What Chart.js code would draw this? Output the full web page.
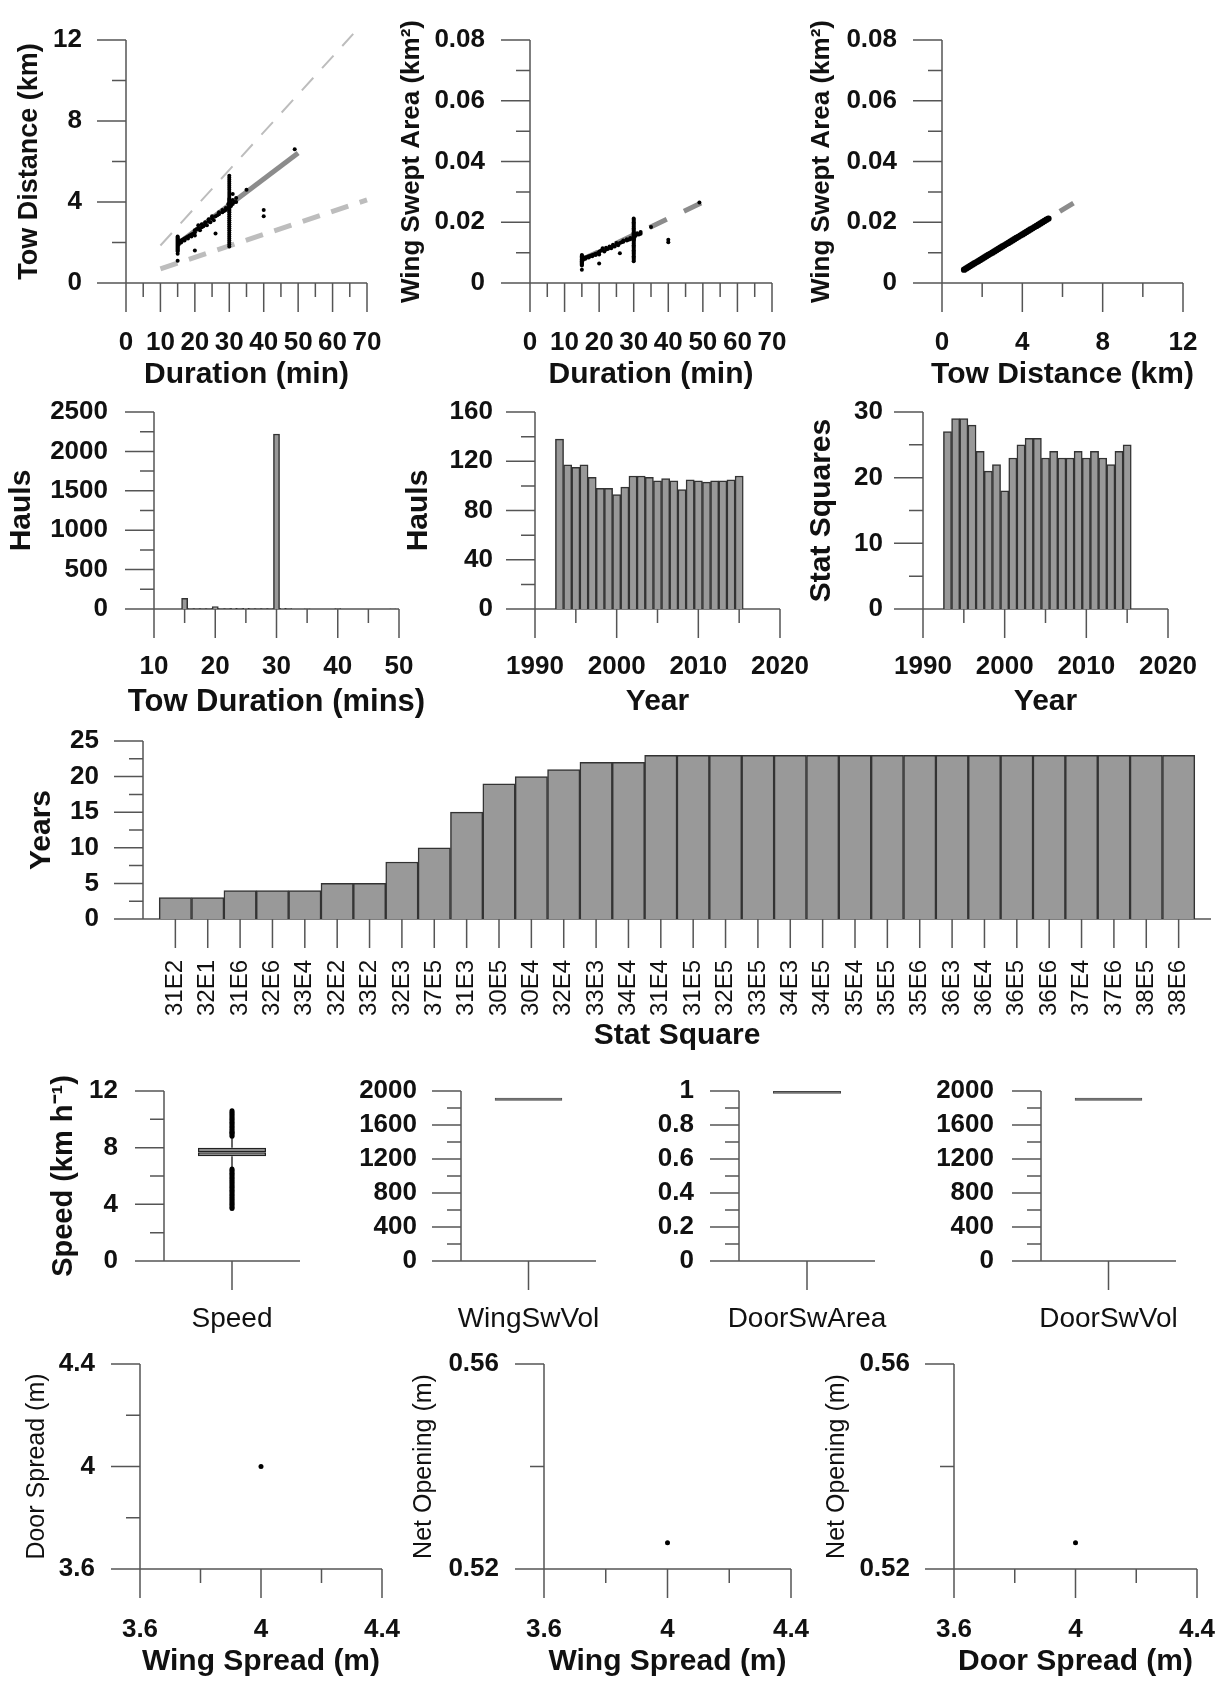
<!DOCTYPE html>
<html>
<head>
<meta charset="utf-8">
<script src="https://cdn.jsdelivr.net/npm/chart.js@4.4.1/dist/chart.umd.min.js"></script>
<style>
body { margin: 0; background: #fff; overflow: hidden; }
#fig { position: relative; width: 1224px; height: 1682px; background: #fff; }
#fig canvas { position: absolute; }
</style>
</head>
<body>
<div id="fig"></div>
<script>
// ---- row 1: tow distance / swept area scatter ----
const durTicks = [0, 10, 20, 30, 40, 50, 60, 70];
const durLabels = ['0', '10', '20', '30', '40', '50', '60', '70'];
const durMinor = [5, 15, 25, 35, 45, 55, 65];
const distTicks = [0, 4, 8, 12];
const distLabels = ['0', '4', '8', '12'];
const distMinor = [2, 6, 10];
const areaTicks = [0, 0.02, 0.04, 0.06, 0.08];
const areaLabels = ['0', '0.02', '0.04', '0.06', '0.08'];
const areaMinor = [0.01, 0.03, 0.05, 0.07];

// duration (min), tow distance (km)
const durDistPts = [
  [15, 1.1], [15, 1.45], [15, 1.55], [15, 1.6], [15, 1.65], [15, 1.7], [15, 1.75], [15, 1.8], [15, 1.85], [15, 1.9],
  [15, 1.95], [15, 2.0], [15, 2.05], [15, 2.1], [15, 2.15], [15, 2.2], [15, 2.25], [15, 2.3], [15.3, 1.9], [15.5, 2.0],
  [15.5, 2.1], [16, 2.0], [16, 2.1], [16.5, 2.15], [17, 2.1], [17, 2.2], [17.5, 2.25], [18, 2.2], [18, 2.3], [18.5, 2.35],
  [19, 2.4], [19, 2.3], [19.5, 2.45], [20, 2.5], [20, 2.6], [20, 2.35], [20, 1.6], [20.5, 2.65], [21, 2.7], [21, 2.85],
  [21.5, 2.6], [22, 2.75], [22, 2.9], [22.5, 2.8], [23, 2.9], [23, 3.0], [23.5, 2.85], [24, 3.05], [24, 3.15], [24.5, 3.0],
  [25, 3.2], [25, 3.3], [25.5, 3.1], [26, 3.3], [26, 2.45], [26.5, 3.35], [27, 3.4], [27, 3.5], [28, 3.5], [28, 3.6],
  [28.5, 3.55], [29, 3.6], [29, 3.7],
  [30, 1.8], [30, 1.9], [30, 2.0], [30, 2.1], [30, 2.2], [30, 2.3], [30, 2.4], [30, 2.5], [30, 2.6], [30, 2.7],
  [30, 2.8], [30, 2.9], [30, 3.0], [30, 3.1], [30, 3.2], [30, 3.3], [30, 3.4], [30, 3.5], [30, 3.55], [30, 3.6],
  [30, 3.65], [30, 3.7], [30, 3.75], [30, 3.8], [30, 3.85], [30, 3.9], [30, 3.95], [30, 4.0], [30, 4.05], [30, 4.1],
  [30, 4.15], [30, 4.2], [30, 4.3], [30, 4.4], [30, 4.5], [30, 4.6], [30, 4.7], [30, 4.8], [30, 4.9], [30, 5.0],
  [30, 5.1], [30, 5.2], [30, 5.3], [29.7, 3.7], [29.7, 3.9], [30.3, 3.8], [30.3, 4.0], [30.5, 3.8], [31, 3.9], [31, 4.1],
  [31.5, 4.0], [32, 4.0], [32, 4.2], [31, 4.4],
  [35, 4.6], [40, 3.6], [40, 3.3], [49, 6.6]
];
const p1FitLine = [[15, 1.93], [50, 6.42]];
const p1UpperLine = [[10, 1.85], [66, 12.3]];
const p1LowerLine = [[10, 0.7], [70, 4.1]];

// duration (min), wing swept area (km2)
const durAreaPts = [
  [15, 0.0044], [15, 0.0058], [15, 0.0062], [15, 0.0065], [15, 0.0068], [15, 0.007], [15, 0.0072], [15, 0.0074], [15, 0.0076], [15, 0.0078],
  [15, 0.008], [15, 0.0082], [15, 0.0084], [15, 0.0086], [15, 0.0088], [15, 0.009], [15, 0.0092], [15.3, 0.0076], [15.5, 0.008], [15.5, 0.0084],
  [16, 0.008], [16, 0.0084], [16.5, 0.0086], [17, 0.0084], [17, 0.0088], [17.5, 0.009], [18, 0.0088], [18, 0.0092], [18.5, 0.0094], [19, 0.0096],
  [19, 0.0092], [19.5, 0.0098], [20, 0.01], [20, 0.0104], [20, 0.0094], [20, 0.0064], [20.5, 0.0106], [21, 0.0108], [21, 0.0114], [21.5, 0.0104],
  [22, 0.011], [22, 0.0116], [22.5, 0.0112], [23, 0.0116], [23, 0.012], [23.5, 0.0114], [24, 0.0122], [24, 0.0126], [24.5, 0.012], [25, 0.0128],
  [25, 0.0132], [25.5, 0.0124], [26, 0.0132], [26, 0.0098], [26.5, 0.0134], [27, 0.0136], [27, 0.014], [28, 0.014], [28, 0.0144], [28.5, 0.0142],
  [29, 0.0144], [29, 0.0148],
  [30, 0.0072], [30, 0.0076], [30, 0.008], [30, 0.0084], [30, 0.0088], [30, 0.0092], [30, 0.0096], [30, 0.01], [30, 0.0104], [30, 0.0108],
  [30, 0.0112], [30, 0.0116], [30, 0.012], [30, 0.0124], [30, 0.0128], [30, 0.0132], [30, 0.0136], [30, 0.014], [30, 0.0142], [30, 0.0144],
  [30, 0.0146], [30, 0.0148], [30, 0.015], [30, 0.0152], [30, 0.0154], [30, 0.0156], [30, 0.0158], [30, 0.016], [30, 0.0162], [30, 0.0164],
  [30, 0.0166], [30, 0.0168], [30, 0.0172], [30, 0.0176], [30, 0.018], [30, 0.0184], [30, 0.0188], [30, 0.0192], [30, 0.0196], [30, 0.02],
  [30, 0.0204], [30, 0.0208], [30, 0.0212], [30.3, 0.0152], [30.5, 0.0156], [31, 0.016], [31, 0.0164], [31.5, 0.016], [32, 0.0162], [32, 0.0168],
  [35, 0.0184], [40, 0.0142], [40, 0.0134], [49, 0.0265]
];
const p2FitLine = [[15, 0.0077], [50, 0.0266]];

// tow distance (km), wing swept area (km2)
const distAreaPts = [
  [1.1, 0.0044], [1.2, 0.0048], [1.3, 0.0052], [1.4, 0.0056], [1.5, 0.006], [1.6, 0.0064], [1.7, 0.0068], [1.8, 0.0072], [1.9, 0.0076], [2.0, 0.008],
  [2.1, 0.0084], [2.2, 0.0088], [2.3, 0.0092], [2.4, 0.0096], [2.5, 0.01], [2.6, 0.0104], [2.7, 0.0108], [2.8, 0.0112], [2.9, 0.0116], [3.0, 0.012],
  [3.1, 0.0124], [3.2, 0.0128], [3.3, 0.0132], [3.4, 0.0136], [3.5, 0.014], [3.6, 0.0144], [3.7, 0.0148], [3.8, 0.0152], [3.9, 0.0156], [4.0, 0.016],
  [4.1, 0.0164], [4.2, 0.0168], [4.3, 0.0172], [4.4, 0.0176], [4.5, 0.018], [4.6, 0.0184], [4.7, 0.0188], [4.8, 0.0192], [4.9, 0.0196], [5.0, 0.02],
  [5.1, 0.0204], [5.2, 0.0208], [5.3, 0.0212]
];
const p3FitLine = [[1.1, 0.0044], [6.6, 0.0265]];

// ---- row 2: histograms ----
const towMins = [15, 16, 17, 18, 19, 20, 21, 22, 23, 24, 25, 26, 27, 28, 29, 30, 31, 32, 33, 34, 35, 36, 37, 38, 39, 40, 41, 42, 43, 44, 45, 46, 47, 48, 49];
const towMinHauls = [135, 6, 5, 6, 4, 30, 5, 6, 8, 6, 10, 6, 5, 4, 6, 2221, 8, 5, 0, 0, 3, 0, 0, 0, 0, 4, 0, 0, 0, 0, 0, 0, 0, 0, 3];
const towTicks = [10, 20, 30, 40, 50];
const towLabels = ['10', '20', '30', '40', '50'];
const towMinor = [15, 25, 35, 45];
const haulTicks = [0, 500, 1000, 1500, 2000, 2500];
const haulLabels = ['0', '500', '1000', '1500', '2000', '2500'];
const haulMinor = [250, 750, 1250, 1750, 2250];

const years = [1993, 1994, 1995, 1996, 1997, 1998, 1999, 2000, 2001, 2002, 2003, 2004, 2005, 2006, 2007, 2008, 2009, 2010, 2011, 2012, 2013, 2014, 2015];
const haulsPerYear = [138, 117, 115, 117, 107, 98, 98, 93, 99, 108, 108, 107, 104, 106, 104, 97, 105, 104, 103, 104, 104, 105, 108];
const squaresPerYear = [27, 29, 29, 28, 24, 21, 22, 18, 23, 25, 26, 26, 23, 24, 23, 23, 24, 23, 24, 23, 22, 24, 25];
const yearTicks = [1990, 2000, 2010, 2020];
const yearLabels = ['1990', '2000', '2010', '2020'];
const yearMinor = [1995, 2005, 2015];
const hyTicks = [0, 40, 80, 120, 160];
const hyLabels = ['0', '40', '80', '120', '160'];
const hyMinor = [20, 60, 100, 140];
const sqTicks = [0, 10, 20, 30];
const sqLabels = ['0', '10', '20', '30'];
const sqMinor = [5, 15, 25];

// ---- row 3: years sampled per stat square ----
const squareNames = ['31E2', '32E1', '31E6', '32E6', '33E4', '32E2', '33E2', '32E3', '37E5', '31E3', '30E5', '30E4', '32E4', '33E3', '34E4', '31E4',
  '31E5', '32E5', '33E5', '34E3', '34E5', '35E4', '35E5', '35E6', '36E3', '36E4', '36E5', '36E6', '37E4', '37E6', '38E5', '38E6'];
const squareYears = [3, 3, 4, 4, 4, 5, 5, 8, 10, 15, 19, 20, 21, 22, 22, 23, 23, 23, 23, 23, 23, 23, 23, 23, 23, 23, 23, 23, 23, 23, 23, 23];
const ysTicks = [0, 5, 10, 15, 20, 25];
const ysLabels = ['0', '5', '10', '15', '20', '25'];
const ysMinor = [2.5, 7.5, 12.5, 17.5, 22.5];

// ---- row 4: box plots ----
const speedBox = [7.4, 7.68, 8.0];
const speedWhiskers = [6.6, 8.8];
const speedOutHigh = [8.8, 8.9, 9.0, 9.05, 9.1, 9.2, 9.3, 9.4, 9.5, 9.6, 9.7, 9.8, 9.9, 10.0, 10.1, 10.2, 10.3, 10.4, 10.5, 10.6];
const speedOutLow = [3.7, 3.8, 3.9, 4.0, 4.1, 4.2, 4.3, 4.4, 4.5, 4.6, 4.7, 4.8, 4.9, 5.0, 5.1, 5.2, 5.3, 5.4, 5.5, 5.6, 5.7, 5.8,
  5.9, 6.0, 6.1, 6.2, 6.3, 6.4, 6.5];
const wingSwVolBox = [1886, 1920];
const doorSwAreaBox = [0.984, 1.0];
const doorSwVolBox = [1886, 1920];
const spTicks = [0, 4, 8, 12];
const spLabels = ['0', '4', '8', '12'];
const spMinor = [2, 6, 10];
const volTicks = [0, 400, 800, 1200, 1600, 2000];
const volLabels = ['0', '400', '800', '1200', '1600', '2000'];
const volMinor = [200, 600, 1000, 1400, 1800];
const fracTicks = [0, 0.2, 0.4, 0.6, 0.8, 1];
const fracLabels = ['0', '0.2', '0.4', '0.6', '0.8', '1'];
const fracMinor = [0.1, 0.3, 0.5, 0.7, 0.9];

// ---- row 5: gear geometry ----
const wingDoorPt = [[4.0, 4.0]];
const wingNetPt = [[4.0, 0.5251]];
const doorNetPt = [[4.0, 0.5251]];
const spreadTicks = [3.6, 4.0, 4.4];
const spreadLabels = ['3.6', '4', '4.4'];
const spreadMinor = [3.8, 4.2];
const netTicks = [0.52, 0.56];
const netLabels = ['0.52', '0.56'];
const netMinor = [0.54];

const FONT = "'Liberation Sans', Arial, Helvetica, sans-serif";
Chart.defaults.font.family = FONT;
Chart.defaults.color = '#111';

// axis lines, long/short tick marks and axis titles, placed with the chart's own scales
function frame(p) {
  const [L, T] = p.rect;
  return {
    id: 'sigmaAxes',
    beforeDatasetsDraw(chart) {
      const {ctx, chartArea: a} = chart;
      const x = chart.scales.x, y = chart.scales.y;
      ctx.save();
      ctx.strokeStyle = '#555';
      ctx.lineWidth = 1.5;
      ctx.beginPath();
      ctx.moveTo(a.left, a.top); ctx.lineTo(a.left, a.bottom);
      ctx.moveTo(a.left - 29, a.bottom); ctx.lineTo(a.right, a.bottom);
      const hy = (vals, len) => (vals || []).forEach(v => {
        const py = y.getPixelForValue(v); ctx.moveTo(a.left - len, py); ctx.lineTo(a.left, py);
      });
      const vx = (vals, len) => (vals || []).forEach(v => {
        const px = x.getPixelForValue(v); ctx.moveTo(px, a.bottom); ctx.lineTo(px, a.bottom + len);
      });
      hy(p.y.major, 29); hy(p.y.minor, 14);
      vx(p.x.type === 'category' ? [0] : p.x.major, 29); vx(p.x.minor, 14);
      ctx.stroke();
      ctx.restore();
    },
    afterDraw(chart) {
      const {ctx, chartArea: a} = chart;
      ctx.save();
      ctx.fillStyle = '#111';
      ctx.textAlign = 'center';
      ctx.textBaseline = 'middle';
      if (p.x.title) {
        ctx.font = `${p.x.tweight || 'bold'} ${p.x.tsize || 30}px ${FONT}`;
        ctx.fillText(p.x.title, (a.left + a.right) / 2, p.x.tpos - T);
      }
      if (p.y.title) {
        ctx.font = `${p.y.tweight || 'bold'} ${p.y.tsize || 30}px ${FONT}`;
        ctx.translate(p.y.tpos - L, (a.top + a.bottom) / 2);
        ctx.rotate(-Math.PI / 2);
        ctx.fillText(p.y.title, 0, 0);
      }
      ctx.restore();
    }
  };
}

function panel(p) {
  const [L, T, W, H] = p.rect, g = p.g;
  const cv = document.createElement('canvas');
  cv.width = W; cv.height = H;
  cv.style.left = L + 'px'; cv.style.top = T + 'px';
  document.getElementById('fig').appendChild(cv);

  function scale(o, isX) {
    const size = o.size || 26;
    let pad;
    if (isX) pad = o.rot ? o.lpos - g.zero : o.lpos - g.zero - 0.6 * size;
    else pad = g.ax - o.lpos;
    const s = {
      type: o.type || 'linear',
      offset: o.type === 'category',
      grid: {display: false, drawTicks: false},
      border: {display: false},
      ticks: {
        autoSkip: false, maxRotation: o.rot || 0, minRotation: o.rot || 0, padding: pad,
        font: {size: size, weight: o.weight || 'bold'}
      },
      afterFit: sc => {
        if (isX) sc.height = T + H - g.zero; else sc.width = g.ax - L;
        sc.paddingTop = 0; sc.paddingBottom = 0; sc.paddingLeft = 0; sc.paddingRight = 0;
      }
    };
    if (o.type !== 'category') {
      s.min = o.min; s.max = o.max;
      s.afterBuildTicks = sc => { sc.ticks = o.major.map(v => ({value: v})); };
      s.ticks.callback = (v, i) => o.labels[i];
    }
    return s;
  }

  return new Chart(cv, {
    type: p.type,
    data: {labels: p.labels, datasets: p.datasets},
    options: {
      responsive: false,
      animation: false,
      devicePixelRatio: 1,
      events: [],
      layout: {padding: {left: 0, top: g.top - T, right: L + W - g.right, bottom: 0}},
      plugins: {legend: {display: false}, tooltip: {enabled: false}},
      scales: {x: scale(p.x, true), y: scale(p.y, false)}
    },
    plugins: [frame(p)]
  });
}

const dots = (data, r) => ({type: 'scatter', data: data, pointRadius: r || 2, pointBackgroundColor: '#000', pointBorderWidth: 0});
const guide = (data, color, width, dash, dashOffset) => ({
  type: 'scatter', data: data, showLine: true, pointRadius: 0, borderColor: color, borderWidth: width,
  borderDash: dash || [], borderDashOffset: dashOffset || 0, clip: false
});
const bars = (xs, ys) => ({
  type: 'bar', data: xs.map((v, i) => ({x: v, y: ys[i]})),
  backgroundColor: '#999', borderColor: '#333', borderWidth: 1.5, categoryPercentage: 1, barPercentage: 1
});

// ---------- row 1 ----------
panel({
  rect: [0, 0, 395, 402], g: {ax: 126, top: 40, zero: 283, right: 367}, type: 'scatter',
  datasets: [dots(durDistPts), guide(p1FitLine, '#8c8c8c', 5), guide(p1UpperLine, '#bdbdbd', 2, [17, 13]),
    guide(p1LowerLine, '#bdbdbd', 5, [18, 12])],
  x: {min: 0, max: 70, major: durTicks, labels: durLabels, minor: durMinor, lpos: 343, title: 'Duration (min)', tpos: 375},
  y: {min: 0, max: 12, major: distTicks, labels: distLabels, minor: distMinor, lpos: 82, title: 'Tow Distance (km)', tpos: 30, tsize: 27}
});
panel({
  rect: [396, 0, 406, 402], g: {ax: 530, top: 40, zero: 283, right: 772}, type: 'scatter',
  datasets: [dots(durAreaPts), guide(p2FitLine, '#8c8c8c', 5, [19, 19], 1)],
  x: {min: 0, max: 70, major: durTicks, labels: durLabels, minor: durMinor, lpos: 343, title: 'Duration (min)', tpos: 375},
  y: {min: 0, max: 0.08, major: areaTicks, labels: areaLabels, minor: areaMinor, lpos: 485, title: 'Wing Swept Area (km²)', tpos: 412, tsize: 26}
});
panel({
  rect: [804, 0, 410, 402], g: {ax: 942, top: 40, zero: 283, right: 1183}, type: 'scatter',
  datasets: [dots(distAreaPts, 3.2), guide(p3FitLine, '#8c8c8c', 5, [16, 12])],
  x: {min: 0, max: 12, major: distTicks, labels: distLabels, minor: distMinor, lpos: 343, title: 'Tow Distance (km)', tpos: 375},
  y: {min: 0, max: 0.08, major: areaTicks, labels: areaLabels, minor: areaMinor, lpos: 897, title: 'Wing Swept Area (km²)', tpos: 822, tsize: 26}
});

// ---------- row 2 ----------
panel({
  rect: [0, 390, 425, 335], g: {ax: 154, top: 412, zero: 609, right: 399}, type: 'bar',
  datasets: [bars(towMins, towMinHauls)],
  x: {min: 10, max: 50, major: towTicks, labels: towLabels, minor: towMinor, lpos: 667, title: 'Tow Duration (mins)', tpos: 702, tsize: 31},
  y: {min: 0, max: 2500, major: haulTicks, labels: haulLabels, minor: haulMinor, lpos: 108, title: 'Hauls', tpos: 22}
});
panel({
  rect: [400, 390, 410, 335], g: {ax: 535, top: 412, zero: 609, right: 780}, type: 'bar',
  datasets: [bars(years, haulsPerYear)],
  x: {min: 1990, max: 2020, major: yearTicks, labels: yearLabels, minor: yearMinor, lpos: 667, title: 'Year', tpos: 702},
  y: {min: 0, max: 160, major: hyTicks, labels: hyLabels, minor: hyMinor, lpos: 493, title: 'Hauls', tpos: 419}
});
panel({
  rect: [800, 390, 410, 335], g: {ax: 923, top: 412, zero: 609, right: 1168}, type: 'bar',
  datasets: [bars(years, squaresPerYear)],
  x: {min: 1990, max: 2020, major: yearTicks, labels: yearLabels, minor: yearMinor, lpos: 667, title: 'Year', tpos: 702},
  y: {min: 0, max: 30, major: sqTicks, labels: sqLabels, minor: sqMinor, lpos: 883, title: 'Stat Squares', tpos: 822}
});

// ---------- row 3 ----------
const squarePos = squareNames.map((n, i) => i + 1);
panel({
  rect: [0, 720, 1224, 340], g: {ax: 143, top: 741, zero: 919, right: 1211}, type: 'bar',
  datasets: [bars(squarePos, squareYears)],
  x: {min: 0, max: 33, major: squarePos, labels: squareNames, rot: 90, size: 24, weight: 'normal', lpos: 960, title: 'Stat Square', tpos: 1036},
  y: {min: 0, max: 25, major: ysTicks, labels: ysLabels, minor: ysMinor, lpos: 99, title: 'Years', tpos: 42}
});

// ---------- row 4 ----------
const boxStyle = {
  type: 'bar', backgroundColor: '#777', borderColor: '#222', borderWidth: 1.5, borderSkipped: false,
  grouped: false, categoryPercentage: 1, barPercentage: 0.5
};
const flatStyle = Object.assign({}, boxStyle, {backgroundColor: '#555', borderColor: '#444', borderWidth: 1});
const onCat = (cat, vals) => vals.map(v => ({x: cat, y: v}));
panel({
  rect: [30, 1075, 290, 270], g: {ax: 164, top: 1091, zero: 1261, right: 300}, type: 'bar', labels: ['Speed'],
  datasets: [
    {type: 'line', data: onCat('Speed', speedOutHigh.concat(speedOutLow)), showLine: false, pointRadius: 2.5, pointBackgroundColor: '#000', pointBorderWidth: 0},
    Object.assign({}, boxStyle, {data: [[speedBox[1], speedBox[2]]]}),
    Object.assign({}, boxStyle, {data: [[speedBox[0], speedBox[1]]]}),
    {type: 'line', data: onCat('Speed', [speedBox[2], speedWhiskers[1]]), pointRadius: 0, borderColor: '#333', borderWidth: 1.5},
    {type: 'line', data: onCat('Speed', [speedWhiskers[0], speedBox[0]]), pointRadius: 0, borderColor: '#333', borderWidth: 1.5}
  ],
  x: {type: 'category', size: 28, weight: 'normal', lpos: 1319},
  y: {min: 0, max: 12, major: spTicks, labels: spLabels, minor: spMinor, lpos: 118, title: 'Speed (km h⁻¹)', tpos: 64, tsize: 29}
});
panel({
  rect: [360, 1075, 260, 270], g: {ax: 461, top: 1091, zero: 1261, right: 596}, type: 'bar', labels: ['WingSwVol'],
  datasets: [Object.assign({}, flatStyle, {data: [wingSwVolBox]})],
  x: {type: 'category', size: 28, weight: 'normal', lpos: 1319},
  y: {min: 0, max: 2000, major: volTicks, labels: volLabels, minor: volMinor, lpos: 417}
});
panel({
  rect: [640, 1075, 260, 270], g: {ax: 739, top: 1091, zero: 1261, right: 875}, type: 'bar', labels: ['DoorSwArea'],
  datasets: [Object.assign({}, flatStyle, {data: [doorSwAreaBox]})],
  x: {type: 'category', size: 28, weight: 'normal', lpos: 1319},
  y: {min: 0, max: 1, major: fracTicks, labels: fracLabels, minor: fracMinor, lpos: 694}
});
panel({
  rect: [930, 1075, 280, 270], g: {ax: 1041, top: 1091, zero: 1261, right: 1176}, type: 'bar', labels: ['DoorSwVol'],
  datasets: [Object.assign({}, flatStyle, {data: [doorSwVolBox]})],
  x: {type: 'category', size: 28, weight: 'normal', lpos: 1319},
  y: {min: 0, max: 2000, major: volTicks, labels: volLabels, minor: volMinor, lpos: 994}
});

// ---------- row 5 ----------
panel({
  rect: [0, 1345, 412, 337], g: {ax: 140, top: 1364, zero: 1569, right: 382}, type: 'scatter',
  datasets: [dots(wingDoorPt, 2.5)],
  x: {min: 3.6, max: 4.4, major: spreadTicks, labels: spreadLabels, minor: spreadMinor, lpos: 1630, title: 'Wing Spread (m)', tpos: 1662},
  y: {min: 3.6, max: 4.4, major: spreadTicks, labels: spreadLabels, minor: spreadMinor, lpos: 95, title: 'Door Spread (m)', tpos: 37, tsize: 25, tweight: 'normal'}
});
panel({
  rect: [405, 1345, 416, 337], g: {ax: 544, top: 1364, zero: 1569, right: 791}, type: 'scatter',
  datasets: [dots(wingNetPt, 2.5)],
  x: {min: 3.6, max: 4.4, major: spreadTicks, labels: spreadLabels, minor: spreadMinor, lpos: 1630, title: 'Wing Spread (m)', tpos: 1662},
  y: {min: 0.52, max: 0.56, major: netTicks, labels: netLabels, minor: netMinor, lpos: 499, title: 'Net Opening (m)', tpos: 424, tsize: 25, tweight: 'normal'}
});
panel({
  rect: [820, 1345, 404, 337], g: {ax: 954, top: 1364, zero: 1569, right: 1197}, type: 'scatter',
  datasets: [dots(doorNetPt, 2.5)],
  x: {min: 3.6, max: 4.4, major: spreadTicks, labels: spreadLabels, minor: spreadMinor, lpos: 1630, title: 'Door Spread (m)', tpos: 1662},
  y: {min: 0.52, max: 0.56, major: netTicks, labels: netLabels, minor: netMinor, lpos: 910, title: 'Net Opening (m)', tpos: 837, tsize: 25, tweight: 'normal'}
});
</script>
</body>
</html>
